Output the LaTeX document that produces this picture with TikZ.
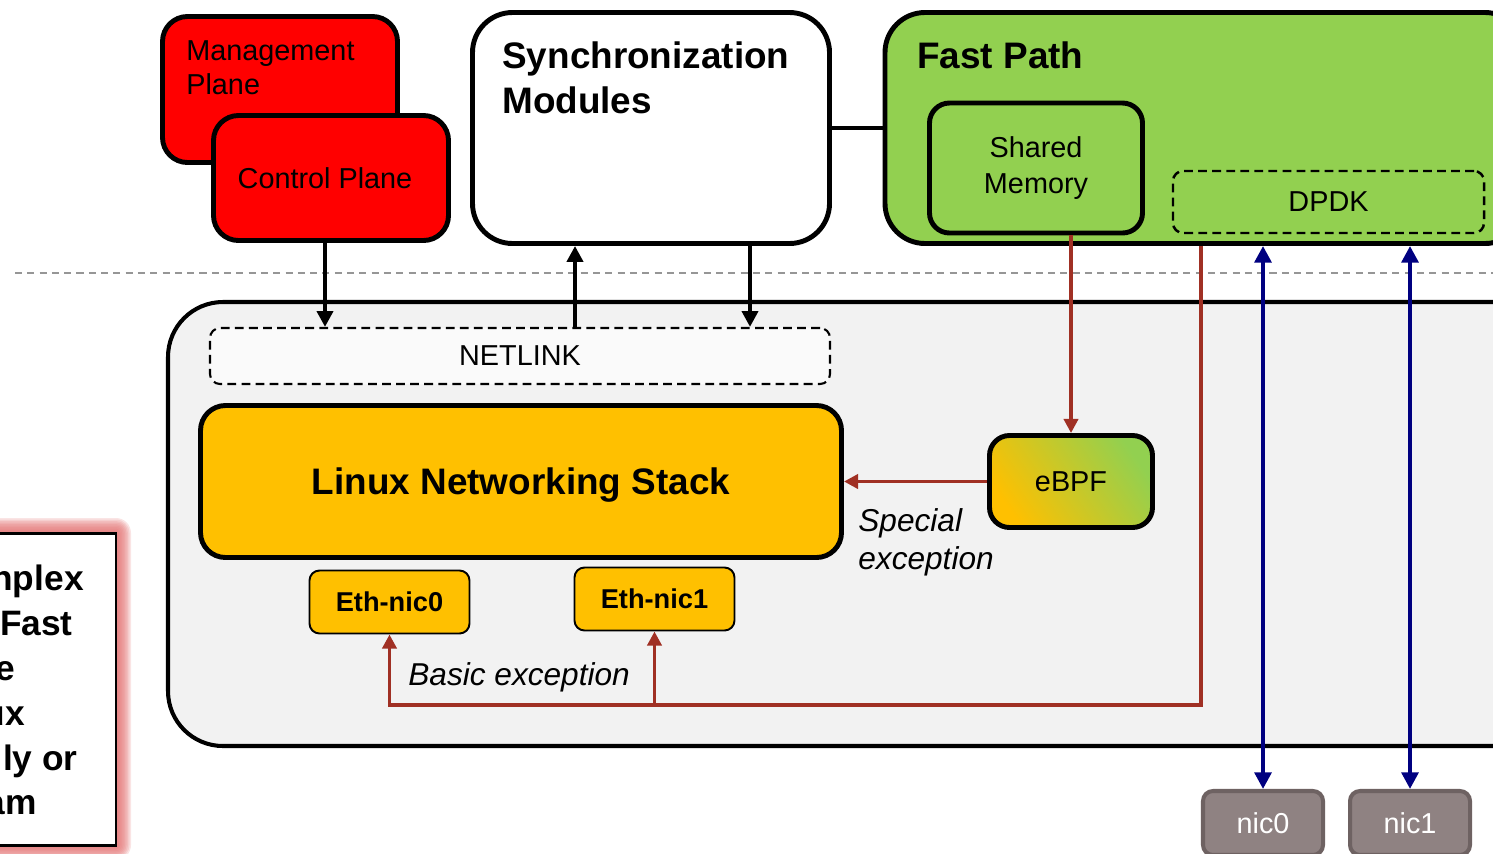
\documentclass[tikz,border=0pt]{standalone}
\usepackage{fontspec}
\setmainfont{Liberation Sans}
\usetikzlibrary{arrows.meta,calc}

\definecolor{cpRed}{RGB}{255,0,0}
\definecolor{fpGreen}{RGB}{146,208,80}
\definecolor{lnsOrange}{RGB}{255,192,0}
\definecolor{kernBg}{RGB}{242,242,242}
\definecolor{excRed}{RGB}{160,48,36}
\definecolor{nicFill}{RGB}{143,130,130}
\definecolor{nicEdge}{RGB}{110,98,98}
\definecolor{linkBlue}{RGB}{0,0,128}
\definecolor{sepGray}{RGB}{150,150,150}
\definecolor{glowRed}{RGB}{228,120,120}

\newcommand\fsReg{\fontsize{16.4}{20.4}\selectfont}
\newcommand\fsMgmt{\fontsize{16.4}{19.3}\selectfont}
\newcommand\fsBig{\fontsize{21}{25.5}\selectfont\bfseries}
\newcommand\fsEth{\fontsize{15.5}{18}\selectfont\bfseries}
\newcommand\fsIt{\fontsize{18}{21.5}\selectfont\itshape}
\newcommand\fsSide{\fontsize{20.1}{25}\selectfont\bfseries}

\begin{document}
\begin{tikzpicture}[x=0.02cm,y=-0.02cm,
  sz/.style 2 args={minimum width=#1*0.02cm,minimum height=#2*0.02cm},
  box/.style={draw=black,line width=2.8pt,rounded corners=#1,inner sep=0pt},
  box/.default=0.5cm,
  dbox/.style={draw=black,line width=1.2pt,dash pattern=on 5pt off 3pt,rounded corners=#1,inner sep=0pt},
  dbox/.default=0.2cm,
  smallbox/.style={draw=black,line width=1.1pt,rounded corners=0.2cm,fill=lnsOrange,inner sep=0pt,font=\fsEth},
  nicbox/.style={draw=nicEdge,line width=2.3pt,rounded corners=0.2cm,fill=nicFill,inner sep=0pt,text=white,font=\fsReg},
  blk/.style={line width=2.3pt,-{Triangle[length=9pt,width=9pt]}},
  exc/.style={draw=excRed,line width=2pt,line join=miter},
  excarrow/.style={exc,-{Triangle[length=8pt,width=8pt]}},
  dual/.style={draw=linkBlue,line width=2.3pt,{Triangle[length=9.5pt,width=9.5pt]}-{Triangle[length=9.5pt,width=9.5pt]}},
  lbl/.style={inner sep=0pt,align=left}
]
\useasboundingbox (0,0) rectangle (1493,853);

% separator between user space and kernel
\coordinate (sepL) at (15,273);
\coordinate (sepR) at (1493,273);
\draw[sepGray,line width=0.9pt,dash pattern=on 4pt off 3pt] (sepL) -- (sepR);

% control side (the base anchor of a multi-line label sits on its last line)
\node[box,fill=cpRed,sz={235}{146}] (mgmt) at (280,89.5) {};
\node[lbl,anchor=base west,font=\fsMgmt] (mgmtT) at (186,94) {Management\\Plane};
\node[box,fill=cpRed,sz={235}{125},font=\fsReg] (ctrl) at (331,178) {\hspace*{-0.24cm}Control Plane};

% synchronization
\node[box=0.8cm,fill=white,sz={357}{231}] (sync) at (651,128) {};
\node[lbl,anchor=base west,font=\fsBig] (syncT) at (502,113) {Synchronization\\Modules};

% fast path
\node[box=0.8cm,fill=fpGreen,sz={640}{231}] (fast) at (1205,128) {};
\node[lbl,anchor=base west,font=\fsBig] (fastT) at (917,68) {Fast Path};
\node[box=0.4cm,fill=fpGreen,sz={213}{130},align=center,font=\fsReg] (shm) at (1036,168) {Shared\\Memory};
\node[dbox,line width=1.4pt,dash pattern=on 5pt off 3pt,sz={311}{62},font=\fsReg] (dpdk) at (1328.5,202) {DPDK};

% kernel area
\node[draw=black,line width=2.3pt,fill=kernBg,rounded corners=1.1cm,sz={1380}{444}] (kern) at (858,524) {};
\node[dbox,fill=white!60!kernBg,sz={620}{56},font=\fsReg] (netlink) at (520,356) {NETLINK};
\node[box,fill=lnsOrange,sz={641}{152},font=\fsBig,text depth=0pt] (lns) at (521,481.5) {Linux Networking Stack};
\node[box=0.4cm,sz={163}{92},bottom color=lnsOrange,top color=fpGreen,shading angle=-55,font=\fsReg] (ebpf) at (1071,481.5) {eBPF};
\node[smallbox,sz={160}{63}] (eth0) at (389.5,602) {Eth-nic0};
\node[smallbox,sz={160}{63}] (eth1) at (654.5,599) {Eth-nic1};

% physical ports
\node[nicbox,sz={120}{64}] (nic0) at (1263,823) {nic0};
\node[nicbox,sz={120}{64}] (nic1) at (1410,823) {nic1};

% side note with a soft red glow
\coordinate (sideSW) at (-30,845);
\coordinate (sideNE) at (116,533);
\foreach \d in {15,13.5,...,1}
  \fill[glowRed,opacity=0.2,rounded corners=\d*0.02cm]
    ($(sideSW)+(-\d,\d)$) rectangle ($(sideNE)+(\d,-\d)$);
\node[draw=black,line width=1.7pt,fill=white,sz={146}{312},inner sep=0pt] (side) at (43,689) {};
\node[inner sep=0pt,anchor=base east,font=\fsSide] (s1) at (84,590) {nplex};
\node[inner sep=0pt,anchor=base east,font=\fsSide] (s2) at (73,635) {Fast};
\node[inner sep=0pt,anchor=base east,font=\fsSide] (s3) at (15,680) {e};
\node[inner sep=0pt,anchor=base east,font=\fsSide] (s4) at (25,725) {ux};
\node[inner sep=0pt,anchor=base east,font=\fsSide] (s5) at (78,770) {ly or};
\node[inner sep=0pt,anchor=base east,font=\fsSide] (s6) at (37,814) {am};

% netlink traffic
\draw[blk] ([xshift=-6*0.02cm]ctrl.south) -- ([xshift=-6*0.02cm]ctrl.south |- netlink.north);
\draw[blk] ([xshift=-76*0.02cm]sync.south |- netlink.north) -- ([xshift=-76*0.02cm]sync.south);
\draw[blk] ([xshift=99*0.02cm]sync.south) -- ([xshift=99*0.02cm]sync.south |- netlink.north);
\draw[line width=2.3pt] (sync.east) -- (fast.west);

% exception paths
\draw[excarrow] (ebpf.north |- shm.south) -- (ebpf.north);
\draw[excarrow] (ebpf.west) -- (lns.east);
\node[lbl,anchor=base west,font=\fsIt] (specT) at (858,569) {Special\\exception};
\coordinate (excDrop) at (1201,705);
\draw[excarrow] (excDrop |- fast.south) -- (excDrop) -- (eth0.south |- excDrop) -- (eth0.south);
\draw[excarrow] (eth1.south |- excDrop) -- (eth1.south);
\node[inner sep=0pt,anchor=base west,font=\fsIt] (basicT) at (408,685) {Basic exception};

% DPDK to ports
\draw[dual] (nic0.north |- fast.south) -- (nic0.north);
\draw[dual] (nic1.north |- fast.south) -- (nic1.north);
\end{tikzpicture}
\end{document}
